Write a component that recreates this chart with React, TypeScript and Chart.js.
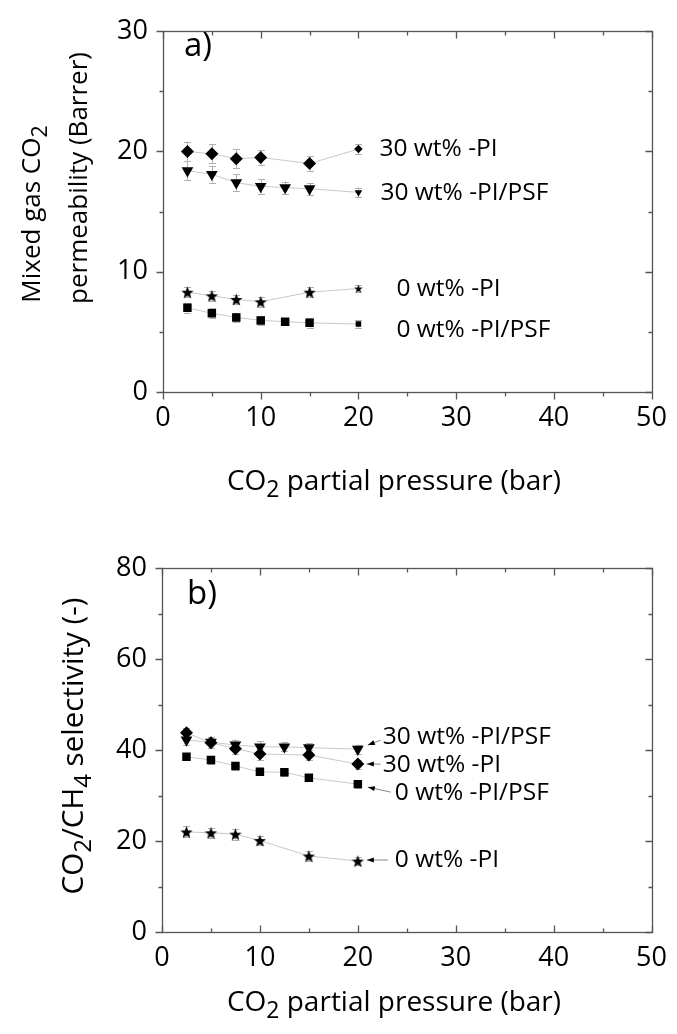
import React, { useEffect, useRef } from "react";
import { Chart, registerables } from "chart.js";
Chart.register(...registerables);

// ---------- data ----------
const pressurePI = [2.5, 5, 7.5, 10, 15, 20];
const pressurePSF = [2.5, 5, 7.5, 10, 12.5, 15, 20];

// panel a) mixed gas CO2 permeability (Barrer)
const permPI30 = [20.0, 19.8, 19.4, 19.5, 19.0, 20.2];
const permPI30Err = [0.8, 0.8, 0.8, 0.6, 0.6, 0.4];
const permPSF30 = [18.4, 18.1, 17.4, 17.1, 17.0, 16.9, 16.6];
const permPSF30Err = [0.8, 0.7, 0.7, 0.6, 0.5, 0.5, 0.4];
const permPI0 = [8.3, 8.0, 7.7, 7.5, 8.3, 8.6];
const permPI0Err = [0.4, 0.4, 0.4, 0.4, 0.4, 0.3];
const permPSF0 = [7.0, 6.55, 6.2, 5.95, 5.85, 5.75, 5.65];
const permPSF0Err = [0.4, 0.4, 0.4, 0.4, 0.3, 0.4, 0.3];

// panel b) CO2/CH4 selectivity
const selPI30 = [43.8, 41.6, 40.3, 39.1, 38.9, 36.9];
const selPI30Err = [1.0, 1.2, 1.2, 1.2, 1.2, 1.0];
const selPSF30 = [42.2, 41.7, 41.1, 40.7, 40.7, 40.5, 40.2];
const selPSF30Err = [1.2, 1.2, 1.2, 1.2, 1.0, 1.0, 1.0];
const selPSF0 = [38.5, 37.8, 36.5, 35.2, 35.1, 33.9, 32.5];
const selPSF0Err = [0.8, 0.8, 0.8, 0.8, 0.8, 0.8, 0.8];
const selPI0 = [22.0, 21.8, 21.5, 20.1, 16.7, 15.6];
const selPI0Err = [1.2, 1.1, 1.2, 1.0, 1.1, 0.8];

const xTicks = [0, 10, 20, 30, 40, 50];
const seriesNames = ["30 wt% -PI", "30 wt% -PI/PSF", "0 wt% -PI", "0 wt% -PI/PSF"];

// ---------- styling ----------
const FONT = "'Open Sans', sans-serif";
const W = 677;
const H = 517;
const TICK_FONT = 27;
const XTITLE_FONT = 28;
const LABEL_FONT = 24.5;

function makeStar(size: number): HTMLCanvasElement {
  const c = document.createElement("canvas");
  c.width = size;
  c.height = size;
  const g = c.getContext("2d")!;
  const cx = size / 2;
  const cy = size / 2 + size * 0.05;
  const R = size / 2;
  const r = R * 0.42;
  g.beginPath();
  for (let i = 0; i < 10; i++) {
    const a = -Math.PI / 2 + (i * Math.PI) / 5;
    const rr = i % 2 === 0 ? R : r;
    g.lineTo(cx + rr * Math.cos(a), cy + rr * Math.sin(a));
  }
  g.closePath();
  g.fillStyle = "#000";
  g.fill();
  return c;
}

type Part = [string, boolean];

function drawRich(ctx: CanvasRenderingContext2D, parts: Part[], x: number, y: number, size: number, align: "left" | "center") {
  const subSize = size * 0.82;
  const widths = parts.map(([t, sub]) => {
    ctx.font = `${sub ? subSize : size}px ${FONT}`;
    return ctx.measureText(t).width;
  });
  const total = widths.reduce((a, b) => a + b, 0);
  let cx = align === "center" ? x - total / 2 : x;
  ctx.textAlign = "left";
  ctx.textBaseline = "middle";
  ctx.fillStyle = "#000";
  parts.forEach(([t, sub], i) => {
    ctx.font = `${sub ? subSize : size}px ${FONT}`;
    ctx.fillText(t, cx, sub ? y + size * 0.32 : y);
    cx += widths[i];
  });
}

interface Label {
  ds: number;
  dx: number;
  dy: number;
  arrow?: [number, number, number, number];
}

interface PanelCfg {
  yMax: number;
  yStep: number;
  yMinor: number;
  top: number;
  bottom: number;
  left: number;
  right: number;
  bottomTicksIn: boolean;
  series: { x: number[]; y: number[]; err: number[]; style: string }[];
  labels: Label[];
  yTitle: { lines: Part[][]; xs: number[]; ys: number[]; sizes: number[] };
  xTitleY: number;
  panelLabel: string;
  panelPos: [number, number];
  smallLast: boolean;
}

const star = typeof document !== "undefined" ? makeStar(13) : null;
const starSmall = typeof document !== "undefined" ? makeStar(9) : null;

function buildChart(canvas: HTMLCanvasElement, p: PanelCfg) {
  const datasets = p.series.map((s, i) => {
    const pts = s.x.map((x, k) => ({ x, y: s.y[k] }));
    const last = pts.length - 1;
    let pointStyle: any = "rectRot";
    let radius = 6.5;
    let rotation = 0;
    if (s.style === "tri") {
      pointStyle = "triangle";
      radius = 6.8;
      rotation = 180;
    } else if (s.style === "rect") {
      pointStyle = "rect";
      radius = 6;
    } else if (s.style === "star") {
      pointStyle = star;
      radius = 6;
    }
    return {
      label: seriesNames[i],
      data: pts,
      errors: s.err,
      showLine: true,
      borderColor: "#c8c8c8",
      borderWidth: 1,
      backgroundColor: "#000",
      pointBackgroundColor: "#000",
      pointBorderColor: "#000",
      pointBorderWidth: 0,
      pointStyle: s.style === "star"
        ? (ctx: any) => (p.smallLast && ctx.dataIndex === last ? starSmall : star)
        : pointStyle,
      pointRotation: rotation,
      pointRadius: (ctx: any) => (p.smallLast && ctx.dataIndex === last ? radius * 0.65 : radius),
      tension: 0,
    };
  });

  const plugin = {
    id: "panelDecor",
    beforeDatasetsDraw(chart: any) {
      const ctx = chart.ctx as CanvasRenderingContext2D;
      const ys = chart.scales.y;
      ctx.save();
      ctx.strokeStyle = "#b0b0b0";
      ctx.lineWidth = 1;
      chart.data.datasets.forEach((ds: any, i: number) => {
        const meta = chart.getDatasetMeta(i);
        meta.data.forEach((pt: any, k: number) => {
          const v = ds.data[k].y;
          const e = ds.errors[k];
          const y1 = ys.getPixelForValue(v + e);
          const y2 = ys.getPixelForValue(v - e);
          const x = Math.round(pt.x) + 0.5;
          ctx.beginPath();
          ctx.moveTo(x, y1);
          ctx.lineTo(x, y2);
          ctx.moveTo(x - 3.5, Math.round(y1) + 0.5);
          ctx.lineTo(x + 3.5, Math.round(y1) + 0.5);
          ctx.moveTo(x - 3.5, Math.round(y2) + 0.5);
          ctx.lineTo(x + 3.5, Math.round(y2) + 0.5);
          ctx.stroke();
        });
      });
      ctx.restore();
    },
    afterDraw(chart: any) {
      const ctx = chart.ctx as CanvasRenderingContext2D;
      const xs = chart.scales.x;
      const ys = chart.scales.y;
      const { left, right, top, bottom } = chart.chartArea;
      ctx.save();
      // frame
      ctx.strokeStyle = "#555";
      ctx.lineWidth = 1.3;
      ctx.strokeRect(Math.round(left) + 0.5, Math.round(top) + 0.5, Math.round(right - left), Math.round(bottom - top));
      // x ticks
      ctx.beginPath();
      for (let v = 0; v <= 50; v += 5) {
        const px = Math.round(xs.getPixelForValue(v)) + 0.5;
        const len = v % 10 === 0 ? 7 : 4;
        const b = Math.round(bottom) + 0.5;
        if (p.bottomTicksIn) {
          ctx.moveTo(px, b);
          ctx.lineTo(px, b - len);
        } else {
          ctx.moveTo(px, b);
          ctx.lineTo(px, b + len);
        }
        const t = Math.round(top) + 0.5;
        ctx.moveTo(px, t);
        ctx.lineTo(px, t + len);
      }
      for (let v = 0; v <= p.yMax + 1e-9; v += p.yMinor) {
        const py = Math.round(ys.getPixelForValue(v)) + 0.5;
        const major = Math.abs(v / p.yStep - Math.round(v / p.yStep)) < 1e-6;
        const len = major ? 7 : 4;
        const l = Math.round(left) + 0.5;
        const r = Math.round(right) + 0.5;
        ctx.moveTo(l - len, py);
        ctx.lineTo(l, py);
        ctx.moveTo(r, py);
        ctx.lineTo(r - len, py);
      }
      ctx.stroke();

      // series labels
      p.labels.forEach((lb) => {
        const meta = chart.getDatasetMeta(lb.ds);
        const pt = meta.data[meta.data.length - 1];
        const ax = pt.x;
        const ay = pt.y;
        drawRich(ctx, [[seriesNames[lb.ds], false]], ax + lb.dx, ay + lb.dy, LABEL_FONT, "left");
        if (lb.arrow) {
          const [fx, fy, tx, ty] = lb.arrow;
          const x1 = ax + fx, y1 = ay + fy, x2 = ax + tx, y2 = ay + ty;
          ctx.strokeStyle = "#888";
          ctx.lineWidth = 1;
          ctx.beginPath();
          ctx.moveTo(x1, y1);
          ctx.lineTo(x2, y2);
          ctx.stroke();
          const ang = Math.atan2(y2 - y1, x2 - x1);
          ctx.fillStyle = "#000";
          ctx.beginPath();
          ctx.moveTo(x2, y2);
          ctx.lineTo(x2 - 7 * Math.cos(ang) + 2.5 * Math.sin(ang), y2 - 7 * Math.sin(ang) - 2.5 * Math.cos(ang));
          ctx.lineTo(x2 - 7 * Math.cos(ang) - 2.5 * Math.sin(ang), y2 - 7 * Math.sin(ang) + 2.5 * Math.cos(ang));
          ctx.closePath();
          ctx.fill();
        }
      });

      // titles
      drawRich(ctx, [["CO", false], ["2", true], [" partial pressure (bar)", false]], 394, p.xTitleY, XTITLE_FONT, "center");
      p.yTitle.lines.forEach((ln, i) => {
        ctx.save();
        ctx.translate(p.yTitle.xs[i], p.yTitle.ys[i]);
        ctx.rotate(-Math.PI / 2);
        drawRich(ctx, ln, 0, 0, p.yTitle.sizes[i], "center");
        ctx.restore();
      });
      drawRich(ctx, [[p.panelLabel, false]], p.panelPos[0], p.panelPos[1], 33, "left");
      ctx.restore();
    },
  };

  return new Chart(canvas, {
    type: "scatter",
    data: { datasets: datasets as any },
    options: {
      responsive: false,
      animation: false,
      events: [],
      layout: { padding: { left: 0, right: W - p.right, top: p.top, bottom: 0 } },
      plugins: { legend: { display: false }, tooltip: { enabled: false }, title: { display: false } },
      scales: {
        x: {
          type: "linear",
          min: 0,
          max: 50,
          afterBuildTicks: (s: any) => {
            s.ticks = xTicks.map((v) => ({ value: v }));
          },
          ticks: { font: { family: FONT, size: TICK_FONT }, color: "#000", padding: 10, maxRotation: 0 },
          grid: { display: false, drawTicks: false },
          border: { display: false },
          afterFit: (s: any) => {
            s.height = H - p.bottom;
          },
        },
        y: {
          type: "linear",
          min: 0,
          max: p.yMax,
          ticks: { stepSize: p.yStep, font: { family: FONT, size: TICK_FONT }, color: "#000", padding: 15 },
          grid: { display: false, drawTicks: false },
          border: { display: false },
          afterFit: (s: any) => {
            s.width = p.left;
          },
        },
      },
    } as any,
    plugins: [plugin],
  });
}

const panelA: PanelCfg = {
  yMax: 30,
  yStep: 10,
  yMinor: 5,
  top: 29,
  bottom: 392,
  left: 163,
  right: 654,
  bottomTicksIn: false,
  series: [
    { x: pressurePI, y: permPI30, err: permPI30Err, style: "diamond" },
    { x: pressurePSF, y: permPSF30, err: permPSF30Err, style: "tri" },
    { x: pressurePI, y: permPI0, err: permPI0Err, style: "star" },
    { x: pressurePSF, y: permPSF0, err: permPSF0Err, style: "rect" },
  ],
  labels: [
    { ds: 0, dx: 21, dy: 0 },
    { ds: 1, dx: 22, dy: 1 },
    { ds: 2, dx: 38, dy: 0 },
    { ds: 3, dx: 38, dy: 6 },
  ],
  yTitle: {
    lines: [
      [["Mixed gas CO", false], ["2", true]],
      [["permeability (Barrer)", false]],
    ],
    xs: [33, 80],
    ys: [214, 178],
    sizes: [26, 26],
  },
  xTitleY: 482,
  panelLabel: "a)",
  panelPos: [184, 47],
  smallLast: true,
};

const panelB: PanelCfg = {
  yMax: 80,
  yStep: 20,
  yMinor: 10,
  top: 51,
  bottom: 415,
  left: 162,
  right: 653,
  bottomTicksIn: true,
  series: [
    { x: pressurePI, y: selPI30, err: selPI30Err, style: "diamond" },
    { x: pressurePSF, y: selPSF30, err: selPSF30Err, style: "tri" },
    { x: pressurePI, y: selPI0, err: selPI0Err, style: "star" },
    { x: pressurePSF, y: selPSF0, err: selPSF0Err, style: "rect" },
  ],
  labels: [
    { ds: 1, dx: 25, dy: -12, arrow: [23, -9, 10, -4] },
    { ds: 0, dx: 25, dy: 1, arrow: [23, 0, 9, 0] },
    { ds: 3, dx: 37, dy: 9, arrow: [33, 8, 10, 3] },
    { ds: 2, dx: 37, dy: -1, arrow: [30, -1, 9, -1] },
  ],
  yTitle: {
    lines: [[["CO", false], ["2", true], ["/CH", false], ["4", true], [" selectivity (-)", false]]],
    xs: [75],
    ys: [229],
    sizes: [29.5],
  },
  xTitleY: 486,
  panelLabel: "b)",
  panelPos: [187, 78],
  smallLast: false,
};

function Panel({ cfg, top }: { cfg: PanelCfg; top: number }) {
  const ref = useRef<HTMLCanvasElement | null>(null);
  useEffect(() => {
    if (!ref.current) return;
    const ch = buildChart(ref.current, cfg);
    return () => ch.destroy();
  }, [cfg]);
  return (
    <div style={{ position: "absolute", left: 0, top, width: W, height: H }}>
      <canvas ref={ref} width={W} height={H} style={{ width: W, height: H, display: "block" }} />
    </div>
  );
}

export default function App() {
  return (
    <div style={{ position: "absolute", left: 0, top: 0, width: W, height: 1034, background: "#fff" }}>
      <Panel cfg={panelA} top={0} />
      <Panel cfg={panelB} top={517} />
    </div>
  );
}
